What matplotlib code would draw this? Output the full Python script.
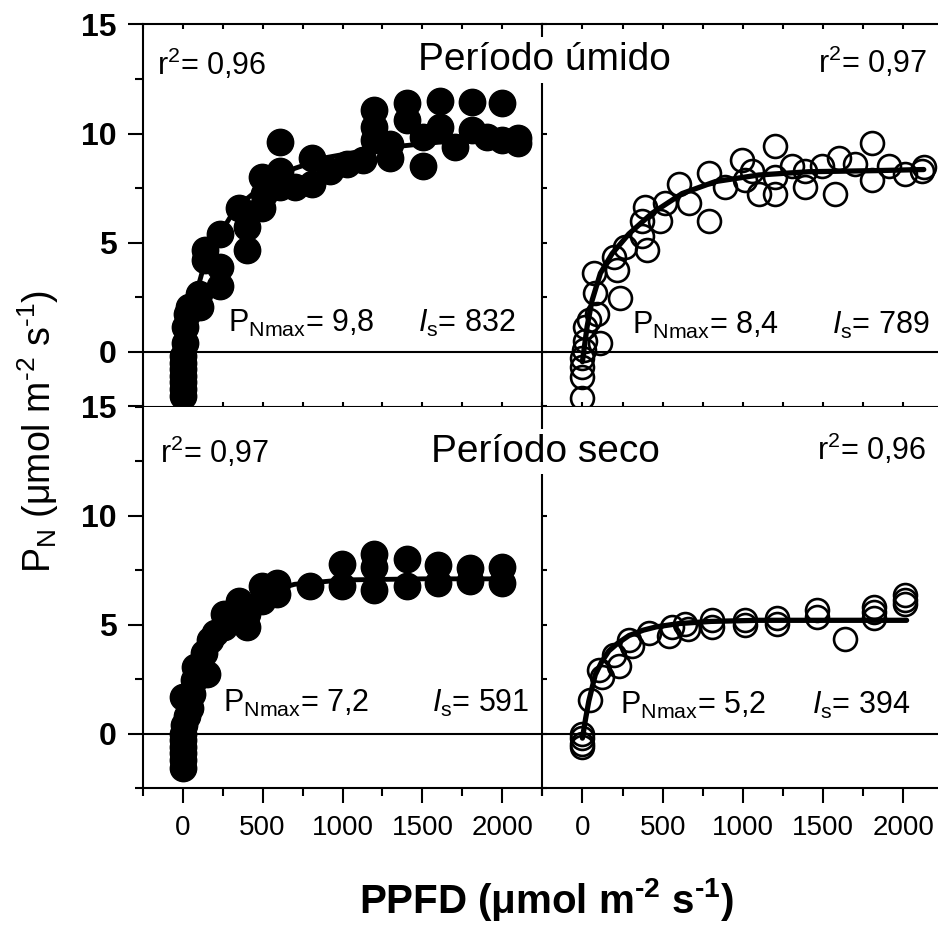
import matplotlib
matplotlib.use("Agg")
import matplotlib.pyplot as plt
from matplotlib.ticker import MultipleLocator, FixedLocator

plt.rcParams['font.family'] = 'Liberation Sans'
plt.rcParams['mathtext.fontset'] = 'custom'
plt.rcParams['mathtext.rm'] = 'Liberation Sans'
plt.rcParams['mathtext.it'] = 'Liberation Sans:italic'
plt.rcParams['mathtext.bf'] = 'Liberation Sans:bold'

# %%
# Periodo umido - filled (left) and open (right) symbols
tl_x = [0, 0, 0, 0, 0, 0, 0, 17, 17, 27, 37, 100, 110, 142, 142, 235, 235, 235,
        350, 402, 402, 496, 506, 496, 610, 610, 610, 704, 808, 808, 923, 1027,
        1131, 1194, 1194, 1194, 1298, 1298, 1402, 1402, 1506, 1506, 1610, 1610,
        1704, 1808, 1808, 1902, 1996, 1996, 2100, 2100]
tl_y = [-2.0, -1.7, -1.4, -1.1, -0.8, -0.5, -0.2, 0.4, 1.15, 1.75, 2.06, 2.67, 2.06,
        4.2, 4.65, 3.9, 3.0, 5.4, 6.6, 4.65, 5.7, 8.0, 7.25, 6.6, 9.6, 8.3, 7.55,
        7.55, 8.9, 7.7, 8.3, 8.6, 8.8, 11.07, 10.3, 9.7, 8.9, 9.5, 11.4, 10.6,
        8.5, 9.85, 11.5, 10.3, 9.4, 11.45, 10.15, 9.85, 11.4, 9.7, 9.8, 9.55]
tl_fit_x = [0, 30, 60, 120, 200, 300, 400, 500, 700, 900, 1200, 1600, 2100]
tl_fit_y = [-1.2, 0.8, 2.0, 3.6, 5.0, 6.2, 7.0, 7.6, 8.4, 8.9, 9.3, 9.6, 9.8]

tr_x = [0, 0, 0, 0, 8, 19, 19, 40, 112, 91, 81, 70, 237, 195, 216, 268, 372, 372,
        393, 403, 486, 517, 600, 662, 787, 787, 891, 995, 1016, 1057, 1099, 1203,
        1203, 1203, 1306, 1390, 1390, 1494, 1577, 1597, 1701, 1805, 1805, 1909,
        2013, 2117, 2127]
tr_y = [-2.1, -1.15, -0.7, -0.3, 0.1, 0.5, 1.15, 1.45, 0.4, 1.75, 2.7, 3.6, 2.45,
        4.35, 3.75, 4.8, 5.3, 6.0, 6.65, 4.65, 6.0, 6.8, 7.7, 6.8, 6.0, 8.2, 7.55,
        8.8, 7.85, 8.3, 7.25, 9.45, 8.0, 7.25, 8.5, 7.55, 8.3, 8.5, 7.25, 8.9, 8.6,
        9.55, 7.85, 8.5, 8.15, 8.3, 8.45]
tr_fit_x = [0, 29, 60, 112, 185, 289, 434, 621, 829, 1099, 1410, 1826, 2127]
tr_fit_y = [-0.45, 1.15, 2.35, 3.6, 4.5, 5.4, 6.35, 7.25, 7.8, 8.1, 8.25, 8.3, 8.35]

# Periodo seco
bl_x = [0, 0, 0, 0, 0, 0, 10, 0, 25, 45, 60, 69, 79, 152, 131, 173, 204, 256, 256,
        350, 402, 402, 496, 496, 590, 590, 798, 996, 996, 1194, 1194, 1194, 1402,
        1402, 1600, 1600, 1798, 1798, 1996, 1996]
bl_y = [-1.55, -1.2, -0.9, -0.6, -0.3, 0.0, 0.4, 1.7, 0.8, 1.2, 1.8, 2.45, 3.06,
        2.75, 3.7, 4.3, 4.6, 5.5, 4.9, 6.1, 4.9, 5.5, 6.75, 6.1, 6.9, 6.4, 6.75,
        7.8, 6.75, 8.25, 7.65, 6.6, 8.0, 6.75, 7.75, 6.9, 7.6, 7.0, 7.65, 6.9]
bl_fit_x = [0, 30, 60, 100, 150, 200, 300, 400, 500, 700, 1000, 1500, 2000]
bl_fit_y = [-0.6, 0.6, 1.8, 2.8, 3.7, 4.4, 5.4, 6.0, 6.45, 6.85, 7.05, 7.1, 7.1]

br_x = [0, 0, 0, 0, 50, 102, 122, 195, 226, 289, 309, 413, 538, 559, 642, 660, 808,
        808, 1016, 1016, 1213, 1213, 1462, 1462, 1639, 1815, 1815, 1815, 2013,
        2013, 2013]
br_y = [0.0, -0.2, -0.45, -0.6, 1.55, 2.9, 2.6, 3.6, 3.1, 4.3, 4.0, 4.6, 4.5, 4.9,
        5.05, 4.8, 5.2, 4.9, 5.2, 5.0, 5.3, 5.05, 5.65, 5.35, 4.35, 5.6, 5.3, 5.8,
        6.35, 5.95, 6.15]
br_fit_x = [0, 20, 40, 80, 120, 165, 220, 290, 380, 460, 600, 800, 1100, 2020]
br_fit_y = [-0.2, 0.7, 1.5, 2.7, 3.3, 3.8, 4.15, 4.5, 4.75, 4.9, 5.05, 5.15, 5.2, 5.2]

# annotations: (r2, PNmax, Is)
r2_txt = ['0,96', '0,97', '0,97', '0,96']
pmax_txt = ['9,8', '8,4', '7,2', '5,2']
is_txt = ['832', '789', '591', '394']
r2_pos = [(-162, 12.67), (1469, 12.77), (-142, 12.4), (1460, 12.55)]
pmax_pos = [(281, 0.92), (308, 0.84), (250, 0.99), (235, 0.92)]
is_pos = [(1475, 0.92), (1554, 0.84), (1560, 0.99), (1429, 0.92)]

# %%
fig = plt.figure(figsize=(9.38, 9.25), dpi=100)

x0, xm, x1 = 142.7 / 938, 542.3 / 938, 943.5 / 938
yt, ym, yb = 1 - 24.3 / 925, 1 - 406.5 / 925, 1 - 788.3 / 925

ax_tl = fig.add_axes([x0, ym, xm - x0, yt - ym])
ax_tr = fig.add_axes([xm, ym, x1 - xm, yt - ym])
ax_bl = fig.add_axes([x0, yb, xm - x0, ym - yb])
ax_br = fig.add_axes([xm, yb, x1 - xm, ym - yb])
axes = [ax_tl, ax_tr, ax_bl, ax_br]

for ax, (xs, ys), (fx, fy) in zip(
        [ax_tl, ax_bl], [(tl_x, tl_y), (bl_x, bl_y)],
        [(tl_fit_x, tl_fit_y), (bl_fit_x, bl_fit_y)]):
    ax.plot(fx, fy, color='k', lw=3.5, zorder=2)
    ax.plot(xs, ys, 'o', color='k', ms=19, zorder=3, clip_on=False)

for ax, (xs, ys), (fx, fy) in zip(
        [ax_tr, ax_br], [(tr_x, tr_y), (br_x, br_y)],
        [(tr_fit_x, tr_fit_y), (br_fit_x, br_fit_y)]):
    ax.plot(xs, ys, 'o', mfc='none', mec='k', mew=1.9, ms=16.5, zorder=3, clip_on=False)
    ax.plot(fx, fy, color='k', lw=3.8, zorder=4, solid_capstyle='round')

HY = '\u2010'  # short hyphen for superscripts, like the original

for i, ax in enumerate(axes):
    ax.set_xlim(-250, 2250)
    ax.set_ylim(-2.5, 15)
    ax.axhline(0, color='k', lw=1.5, zorder=1)
    for sp in ax.spines.values():
        sp.set_linewidth(1.5)
    ax.xaxis.set_major_locator(FixedLocator([0, 500, 1000, 1500, 2000]))
    ax.xaxis.set_minor_locator(MultipleLocator(250))
    ax.yaxis.set_major_locator(FixedLocator([0, 5, 10, 15]))
    ax.yaxis.set_minor_locator(FixedLocator([-2.5, 2.5, 7.5, 12.5]))

    r2x, r2y = r2_pos[i]
    ax.text(r2x, r2y, r'r$^{\mathregular{2}}$= ' + r2_txt[i], fontsize=22, va='baseline')
    px, py = pmax_pos[i]
    ax.text(px, py, r'P$_{\mathregular{Nmax}}$= ' + pmax_txt[i], fontsize=22, va='baseline')
    ix, iy = is_pos[i]
    ax.text(ix, iy, r'$\mathit{I}_{\mathregular{s}}$= ' + is_txt[i], fontsize=22, va='baseline')

# left panels: y labels outward on the left
for ax in [ax_tl, ax_bl]:
    ax.spines['right'].set_visible(False)
    ax.tick_params(axis='y', which='both', left=True, right=False, direction='out', width=1.5)
    ax.tick_params(axis='y', which='major', length=11, pad=8)
    ax.tick_params(axis='y', which='minor', length=5.5)
    for lab in ax.get_yticklabels():
        lab.set_fontsize(23)
        lab.set_fontweight('bold')

# right panels: short inward ticks on the divider
for ax in [ax_tr, ax_br]:
    ax.tick_params(axis='y', which='both', left=True, right=False, direction='in',
                   length=3.5, width=1.5, labelleft=False)

# top row: short inward ticks top and bottom
for ax in [ax_tl, ax_tr]:
    ax.tick_params(axis='x', which='both', top=True, bottom=True, direction='in',
                   length=3.5, width=1.5, labelbottom=False)

# bottom row: outward ticks with labels
for ax in [ax_bl, ax_br]:
    ax.spines['top'].set_visible(False)
    ax.tick_params(axis='x', which='both', top=False, bottom=True, direction='out', width=1.5)
    ax.tick_params(axis='x', which='major', length=11, pad=8, labelsize=20)
    ax.tick_params(axis='x', which='minor', length=5.5)

fig.text(544.5 / 938, 1 - 70 / 925, 'Período úmido', fontsize=28, ha='center',
         va='baseline', bbox=dict(boxstyle='square,pad=0.12', fc='white', ec='none'))
fig.text(545 / 938, 1 - 461.7 / 925, 'Período seco', fontsize=28, ha='center',
         va='baseline', bbox=dict(boxstyle='square,pad=0.12', fc='white', ec='none'))

fig.text(38 / 938, 1 - 432 / 925,
         r'P$_{\mathregular{N}}$ (μmol m$^{\mathregular{' + HY + '2}}$ s$^{\mathregular{' + HY + '1}}$)',
         fontsize=27, rotation=90, ha='center', va='center')
fig.text(547 / 938, 1 - 913 / 925,
         r'PPFD (μmol m$^{\mathbf{' + HY + '2}}$ s$^{\mathbf{' + HY + '1}}$)',
         fontsize=29, fontweight='bold', ha='center', va='baseline')

fig.savefig('out.png', dpi=100)
